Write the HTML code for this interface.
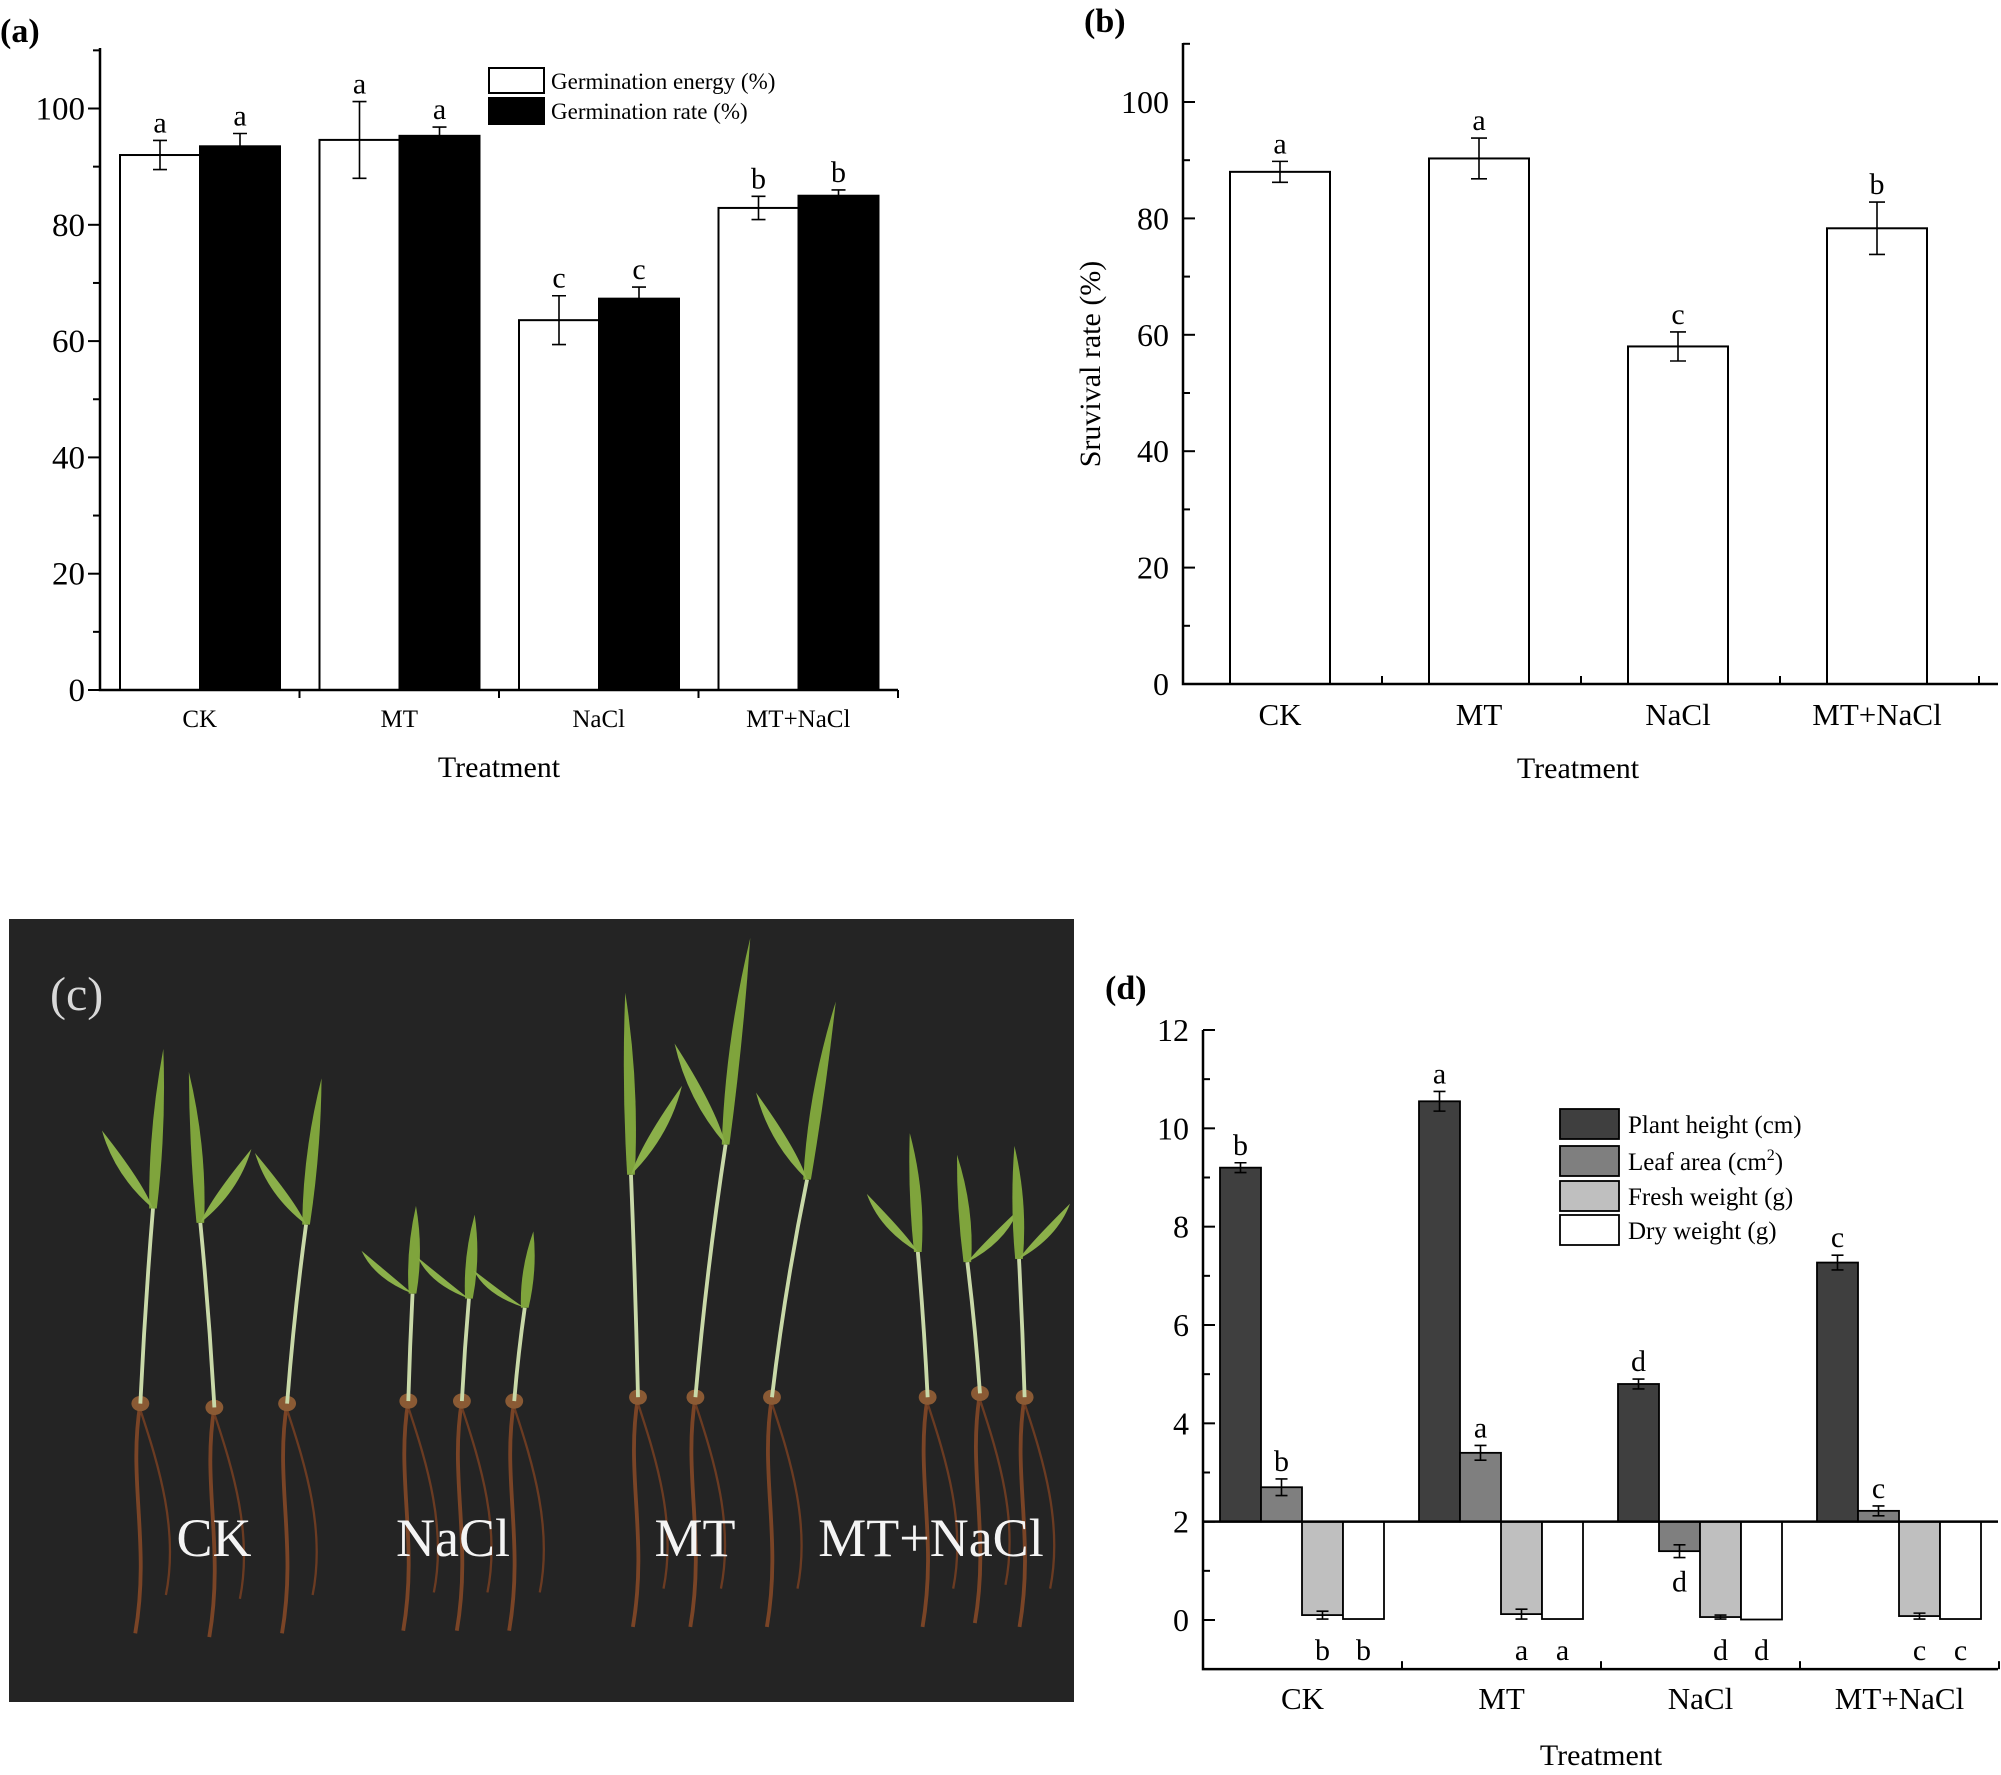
<!DOCTYPE html>
<html><head><meta charset="utf-8">
<style>
html,body{margin:0;padding:0;background:#fff;}
svg{display:block;font-family:"Liberation Serif",serif;}
</style></head>
<body>
<svg id="fig" width="2001" height="1775" viewBox="0 0 2001 1775" xmlns="http://www.w3.org/2000/svg">
  <g id="pa"></g>
  <g id="pb"></g>
  <g id="pc">
    <rect x="9" y="919" width="1065" height="783" fill="#242424"/>
    <g id="plants" transform="scale(1.276)"></g>
    <text x="50" y="1010" font-size="48" fill="#d8d8d8">(c)</text>
    <text x="214" y="1556" font-size="54" fill="#f4f4f4" text-anchor="middle">CK</text>
    <text x="453" y="1556" font-size="54" fill="#f4f4f4" text-anchor="middle">NaCl</text>
    <text x="695" y="1556" font-size="54" fill="#f4f4f4" text-anchor="middle">MT</text>
    <text x="931" y="1556" font-size="54" fill="#f4f4f4" text-anchor="middle">MT+NaCl</text>
  </g>
  <g id="pd"></g>
</svg>
<script>
// ---------- Data ----------
const categories = ["CK", "MT", "NaCl", "MT+NaCl"];
// panel a
const geValues = [92, 94.6, 63.6, 82.9];
const geErrors = [2.5, 6.6, 4.2, 2.0];
const geLetters = ["a", "a", "c", "b"];
const grValues = [93.5, 95.3, 67.3, 85.0];
const grErrors = [2.2, 1.5, 2.0, 1.0];
const grLetters = ["a", "a", "c", "b"];
const aTicks = [0, 20, 40, 60, 80, 100];
// panel b
const survValues = [88, 90.3, 58, 78.3];
const survErrors = [1.8, 3.5, 2.5, 4.5];
const survLetters = ["a", "a", "c", "b"];
const bTicks = [0, 20, 40, 60, 80, 100];
// panel d
const heightValues = [9.2, 10.55, 4.8, 7.27];
const heightErrors = [0.1, 0.2, 0.1, 0.15];
const heightLetters = ["b", "a", "d", "c"];
const leafValues = [2.7, 3.4, 1.4, 2.22];
const leafErrors = [0.17, 0.15, 0.13, 0.1];
const leafLetters = ["b", "a", "d", "c"];
const freshValues = [0.1, 0.12, 0.06, 0.08];
const freshErrors = [0.08, 0.1, 0.04, 0.06];
const freshLetters = ["b", "a", "d", "c"];
const dryValues = [0.02, 0.02, 0.01, 0.02];
const dryLetters = ["b", "a", "d", "c"];
const dTicks = [0, 2, 4, 6, 8, 10, 12];

const NS = "http://www.w3.org/2000/svg";
function mk(parent, tag, attrs, text) {
  const e = document.createElementNS(NS, tag);
  for (const k in attrs) e.setAttribute(k, attrs[k]);
  if (text !== undefined) e.textContent = text;
  parent.appendChild(e);
  return e;
}

function errBar(g, x, y1, y2, cap, name) {
  const e = mk(g, "path", {d: `M${x-cap},${y1}H${x+cap}M${x},${y1}V${y2}M${x-cap},${y2}H${x+cap}`, stroke: "#000", "stroke-width": 1.6, fill: "none"});
  
  
}

// ---------- Panel A ----------
(function(){
  const g = document.getElementById("pa");
  const x0 = 100, x1 = 898, yTop = 48, y0 = 690, yMax = 110;
  const ys = v => y0 - v * (y0 - 108.5) / 100;
  const gw = (x1 - x0) / 4;
  const t = mk(g, "text", {x: 0, y: 42, "font-size": 34, "font-weight": "bold"}, "(a)");
   
  categories.forEach((c, i) => {
    const gx = x0 + i * gw;
    const bw = 80;
    const bx1 = gx + 20, bx2 = gx + 20 + bw;
    const r1 = mk(g, "rect", {x: bx1, y: ys(geValues[i]), width: bw, height: y0 - ys(geValues[i]), fill: "#fff", stroke: "#000", "stroke-width": 2});
     
    const r2 = mk(g, "rect", {x: bx2, y: ys(grValues[i]), width: bw, height: y0 - ys(grValues[i]), fill: "#000", stroke: "#000", "stroke-width": 2});
     
    errBar(g, bx1 + bw/2, ys(geValues[i] + geErrors[i]), ys(geValues[i] - geErrors[i]), 7, 'ge-error-bar-' + i);
    errBar(g, bx2 + bw/2, ys(grValues[i] + grErrors[i]), ys(grValues[i] - grErrors[i]), 7, 'gr-error-bar-' + i);
    const l1 = mk(g, "text", {x: bx1 + bw/2, y: ys(geValues[i] + geErrors[i]) - 8, "font-size": 30, "text-anchor": "middle"}, geLetters[i]);
     
    const l2 = mk(g, "text", {x: bx2 + bw/2, y: ys(grValues[i] + grErrors[i]) - 8, "font-size": 30, "text-anchor": "middle"}, grLetters[i]);
     
    const cl = mk(g, "text", {x: gx + gw/2, y: 727, "font-size": 25, "text-anchor": "middle"}, c);
     
    if (i > 0) mk(g, "line", {x1: gx, y1: y0, x2: gx, y2: y0 + 8, stroke: "#000", "stroke-width": 2});
  });
  mk(g, "line", {x1: x1, y1: y0, x2: x1, y2: y0 + 8, stroke: "#000", "stroke-width": 2});
  const ax = mk(g, "path", {d: `M${x0},${yTop}V${y0}H${x1}`, stroke: "#000", "stroke-width": 2.5, fill: "none"});
   
  for (let v = 0; v <= yMax; v += 10) {
    const major = v % 20 === 0;
    mk(g, "line", {x1: x0 - (major ? 12 : 7), y1: ys(v), x2: x0, y2: ys(v), stroke: "#000", "stroke-width": 2});
  }
  aTicks.forEach(v => {
    const tl = mk(g, "text", {x: x0 - 15, y: ys(v) + 11, "font-size": 33, "text-anchor": "end"}, v);
     
  });
  const xt = mk(g, "text", {x: 499, y: 777, "font-size": 30, "text-anchor": "middle"}, "Treatment");
   
  // legend
  const lg = mk(g, "g", {});
   
  mk(lg, "rect", {x: 489, y: 68, width: 55, height: 25, fill: "#fff", stroke: "#000", "stroke-width": 2});
  mk(lg, "rect", {x: 489, y: 98, width: 55, height: 26, fill: "#000", stroke: "#000", "stroke-width": 2});
  const lt1 = mk(lg, "text", {x: 551, y: 89, "font-size": 23}, "Germination energy (%)");
   
  const lt2 = mk(lg, "text", {x: 551, y: 119, "font-size": 23}, "Germination rate (%)");
   
})();

// ---------- Panel B ----------
(function(){
  const g = document.getElementById("pb");
  const x0 = 1183, x1 = 1998, yTop = 43, y0 = 684, yMax = 110;
  const ys = v => y0 - v * (y0 - 102) / 100;
  const gw = 199;
  const t = mk(g, "text", {x: 1084, y: 32, "font-size": 34, "font-weight": "bold"}, "(b)");
   
  categories.forEach((c, i) => {
    const cx = x0 + 97 + i * gw;
    const bw = 100;
    const r = mk(g, "rect", {x: cx - bw/2, y: ys(survValues[i]), width: bw, height: y0 - ys(survValues[i]), fill: "#fff", stroke: "#000", "stroke-width": 2});
     
    errBar(g, cx, ys(survValues[i] + survErrors[i]), ys(survValues[i] - survErrors[i]), 8, 'survival-error-bar-' + i);
    const l = mk(g, "text", {x: cx, y: ys(survValues[i] + survErrors[i]) - 8, "font-size": 30, "text-anchor": "middle"}, survLetters[i]);
     
    const cl = mk(g, "text", {x: cx, y: 725, "font-size": 31, "text-anchor": "middle"}, c);
     
    const bx = x0 + (i + 1) * gw;
    mk(g, "line", {x1: bx, y1: y0, x2: bx, y2: y0 - 8, stroke: "#000", "stroke-width": 2});
  });
  const ax = mk(g, "path", {d: `M${x0},${yTop}V${y0}H${x1}`, stroke: "#000", "stroke-width": 2.5, fill: "none"});
   
  for (let v = 0; v <= yMax; v += 10) {
    const major = v % 20 === 0;
    mk(g, "line", {x1: x0, y1: ys(v), x2: x0 + (major ? 12 : 7), y2: ys(v), stroke: "#000", "stroke-width": 2});
  }
  bTicks.forEach(v => {
    const tl = mk(g, "text", {x: x0 - 14, y: ys(v) + 11, "font-size": 32, "text-anchor": "end"}, v);
     
  });
  const yt = mk(g, "text", {x: 1100, y: 364, "font-size": 30, "text-anchor": "middle", transform: "rotate(-90 1100 364)"}, "Sruvival rate (%)");
   
  const xt = mk(g, "text", {x: 1578, y: 778, "font-size": 30, "text-anchor": "middle"}, "Treatment");
   
})();

// ---------- Panel C plants (display coords, scaled) ----------
(function(){
  const g = document.getElementById("plants");
  const plants = [
    [110,1100,128,822,-1],[168,1103,148,840,1],[225,1100,252,845,-1],
    [320,1098,326,945,-1],[362,1098,372,952,-1],[403,1098,418,965,-1],
    [500,1095,490,778,1],[545,1095,588,735,-1],[605,1095,655,785,-1],
    [727,1095,713,888,-1],[768,1092,750,905,1],[803,1095,795,898,1]
  ];
  plants.forEach((p, i) => {
    const [bx, by, tx, ty, s] = p;
    const pg = mk(g, "g", {});
     
    mk(pg, "path", {d: `M${bx},${by} C${bx-10},${by+60} ${bx+8},${by+110} ${bx-4},${by+180}`, stroke: "#7a4426", "stroke-width": 3, fill: "none"});
    mk(pg, "path", {d: `M${bx},${by+5} C${bx+15},${by+50} ${bx+30},${by+100} ${bx+20},${by+150}`, stroke: "#6b3b22", "stroke-width": 1.8, fill: "none"});
    mk(pg, "ellipse", {cx: bx, cy: by, rx: 7, ry: 6, fill: "#8a5a34"});
    const mx = bx + (tx - bx) * 0.55, my = by + (ty - by) * 0.55;
    mk(pg, "path", {d: `M${bx},${by} Q${bx + (tx-bx)*0.2},${(by+my)/2} ${mx},${my}`, stroke: "#c9d9a8", "stroke-width": 3, fill: "none"});
    mk(pg, "path", {d: `M${mx-3},${my} Q${mx + (tx-mx)*0.3 - 6},${(my+ty)/2} ${tx},${ty} Q${mx + (tx-mx)*0.3 + 8},${(my+ty)/2} ${mx+3},${my} Z`, fill: "#7fa43c"});
    const lx = mx + s * 40, ly = my - (by - ty) * 0.22;
    mk(pg, "path", {d: `M${mx},${my} Q${mx + s*8},${(my+ly)/2 + 10} ${lx},${ly} Q${mx + s*30},${(my+ly)/2 + 5} ${mx},${my} Z`, fill: "#8bb04a"});
  });
})();

// ---------- Panel D ----------
(function(){
  const g = document.getElementById("pd");
  const x0 = 1203, x1 = 1998, y12 = 1030, yZero = 1620;
  const ys = v => yZero - v * (yZero - y12) / 12;
  const base = 2;
  const gw = 199, bw = 41, pad = 17;
  const t = mk(g, "text", {x: 1105, y: 999, "font-size": 34, "font-weight": "bold"}, "(d)");
   
  const series = [
    {v: heightValues, e: heightErrors, l: heightLetters, fill: "#3f3f3f", n: "plant-height"},
    {v: leafValues, e: leafErrors, l: leafLetters, fill: "#7f7f7f", n: "leaf-area"},
    {v: freshValues, e: freshErrors, l: freshLetters, fill: "#bfbfbf", n: "fresh-weight"},
    {v: dryValues, e: null, l: dryLetters, fill: "#ffffff", n: "dry-weight"}
  ];
  categories.forEach((c, i) => {
    const gx = x0 + i * gw;
    series.forEach((s, k) => {
      const v = s.v[i];
      const bx = gx + pad + k * bw;
      const top = Math.min(ys(v), ys(base)), h = Math.abs(ys(v) - ys(base));
      const r = mk(g, "rect", {x: bx, y: top, width: bw, height: h, fill: s.fill, stroke: "#000", "stroke-width": 1.8});
       
      const err = s.e ? s.e[i] : 0;
      if (s.e) errBar(g, bx + bw/2, ys(v + err), ys(v - err), 6, s.n + '-error-bar-' + i);
      let ly;
      if (v >= base) ly = ys(v + err) - 8;
      else if (k === 1) ly = ys(v - err) + 34;
      else ly = ys(0) + 40;
      const lt = mk(g, "text", {x: bx + bw/2, y: ly, "font-size": 30, "text-anchor": "middle"}, s.l[i]);
       
    });
    const cl = mk(g, "text", {x: gx + gw/2, y: 1709, "font-size": 31, "text-anchor": "middle"}, c);
     
    mk(g, "line", {x1: gx + gw, y1: ys(-1), x2: gx + gw, y2: ys(-1) - 8, stroke: "#000", "stroke-width": 2});
  });
  const bl = mk(g, "line", {x1: x0, y1: ys(base), x2: x1, y2: ys(base), stroke: "#000", "stroke-width": 2.5});
   
  const ax = mk(g, "path", {d: `M${x0},${y12}V${ys(-1)}H${x1}`, stroke: "#000", "stroke-width": 2.5, fill: "none"});
   
  for (let v = 0; v <= 12; v += 1) {
    const major = v % 2 === 0;
    mk(g, "line", {x1: x0, y1: ys(v), x2: x0 + (major ? 12 : 7), y2: ys(v), stroke: "#000", "stroke-width": 2});
  }
  dTicks.forEach(v => {
    const tl = mk(g, "text", {x: x0 - 14, y: ys(v) + 11, "font-size": 32, "text-anchor": "end"}, v);
     
  });
  const xt = mk(g, "text", {x: 1601, y: 1765, "font-size": 30, "text-anchor": "middle"}, "Treatment");
   
  const lg = mk(g, "g", {});
   
  const ly = [1109, 1146, 1181, 1215];
  const labels = ["Plant height (cm)", "Leaf area (cm", "Fresh weight (g)", "Dry weight (g)"];
  series.forEach((s, k) => {
    mk(lg, "rect", {x: 1560, y: ly[k], width: 59, height: 30, fill: s.fill, stroke: "#000", "stroke-width": 1.8});
    const tx = mk(lg, "text", {x: 1628, y: ly[k] + 24, "font-size": 25}, labels[k]);
     
    if (k === 1) {
      mk(tx, "tspan", {dy: -10, "font-size": 16}, "2");
      mk(tx, "tspan", {dy: 10}, ")");
    }
  });
})();
</script>
</body></html>
